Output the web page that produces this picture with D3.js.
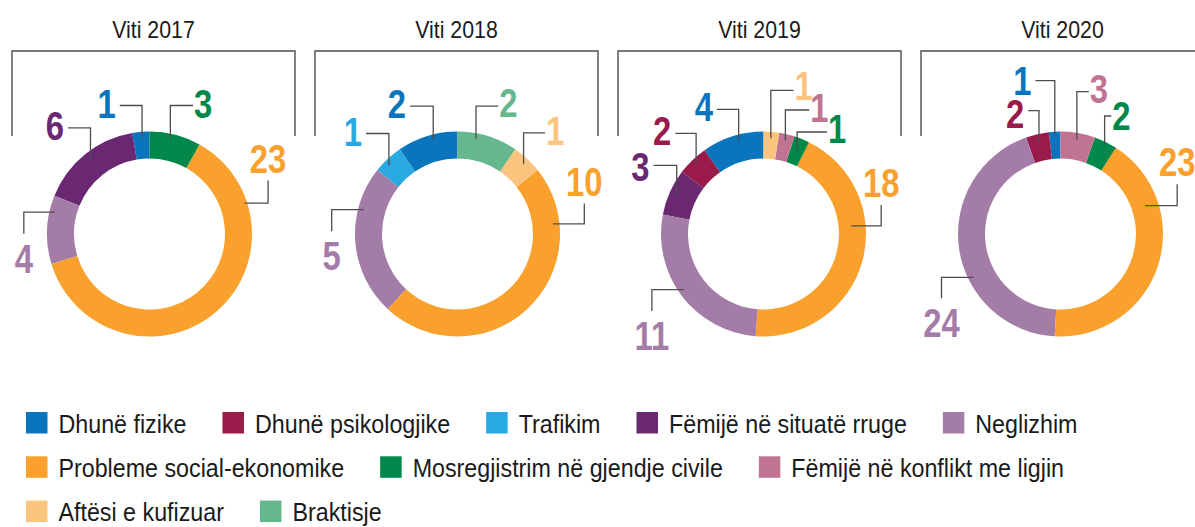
<!DOCTYPE html>
<html>
<head>
<meta charset="utf-8">
<script src="https://cdn.jsdelivr.net/npm/d3@7"></script>
<style>
  html, body { margin: 0; padding: 0; background: #ffffff; }
  svg { display: block; }
</style>
</head>
<body>
<div id="chart"></div>
<script>
// ---------------- DATA ----------------
const categories = [
  "Dhunë fizike",
  "Dhunë psikologjike",
  "Trafikim",
  "Fëmijë në situatë rruge",
  "Neglizhim",
  "Probleme social-ekonomike",
  "Mosregjistrim në gjendje civile",
  "Fëmijë në konflikt me ligjin",
  "Aftësi e kufizuar",
  "Braktisje"
];
const colors = [
  "#0a75bc", "#9a1a4a", "#29a9e1", "#6a2873", "#a47ca8",
  "#f9a02d", "#00884a", "#c17492", "#fcc57f", "#65b78e"
];
const years = ["Viti 2017", "Viti 2018", "Viti 2019", "Viti 2020"];
const values2017 = [1, 0, 0, 6, 4, 23, 3, 0, 0, 0];
const values2018 = [2, 0, 1, 0, 5, 10, 0, 0, 1, 2];
const values2019 = [4, 2, 0, 3, 11, 18, 1, 1, 1, 0];
const values2020 = [1, 2, 0, 0, 24, 23, 2, 3, 0, 0];
const seriesValues = [values2017, values2018, values2019, values2020];

// ---------------- LAYOUT (label leader placement, relative to donut centre) ----------------
// t: "v" = vertical then horizontal (label at side); "h" = horizontal then vertical (label above/below)
// a: anchor angle in degrees (null = slice middle), r: anchor radius, k: knee coordinate, e: end coordinate
// dy: optional baseline offset of a side label below its leader line
const labels2017 = [
  {c: 0, t: "v", a: -4.4, r: 97, k: -128.5, e: -29.7},
  {c: 3, t: "v", a: -38.4, r: 95, k: -106.2, e: -81.4},
  {c: 4, t: "h", a: -77, r: 97, k: -125.7, e: -0.2},
  {c: 5, t: "h", a: 72, r: 100, k: 118.6, e: -53.5},
  {c: 6, t: "v", a: 12.4, r: 97, k: -128.5, e: 43.6}
];
const labels2018 = [
  {c: 0, t: "v", a: -14.5, r: 97, k: -127.8, e: -47.5},
  {c: 2, t: "v", a: -45, r: 97, k: -100.5, e: -91.5},
  {c: 4, t: "h", a: -75.4, r: 97, k: -125.8, e: -2.8},
  {c: 5, t: "h", a: 84, r: 96, k: 126.8, e: -30.5},
  {c: 8, t: "v", a: 43.5, r: 96, k: -101.2, e: 87.5},
  {c: 9, t: "v", a: 11, r: 97, k: -127.8, e: 40.8, dy: 11}
];
const labels2019 = [
  {c: 0, t: "v", a: -15, r: 96, k: -124.7, e: -46.6},
  {c: 1, t: "v", a: -44, r: 97, k: -100.7, e: -88.3},
  {c: 3, t: "v", a: -66, r: 95, k: -68.7, e: -110, dy: 15.5},
  {c: 4, t: "h", a: -125, r: 97, k: -111.6, e: 77},
  {c: 5, t: "h", a: 84.7, r: 88, k: 117.7, e: -29},
  {c: 6, t: "v", a: null, r: 90, k: -102, e: 63.4, dy: 11},
  {c: 7, t: "v", a: null, r: 96, k: -124, e: 45.7},
  {c: 8, t: "v", a: null, r: 96, k: -143.7, e: 30, dy: 9.5}
];
const labels2020 = [
  {c: 0, t: "v", a: null, r: 100, k: -153.3, e: -25, dy: 14},
  {c: 1, t: "v", a: null, r: 95, k: -123.3, e: -32.3, dy: 17.5},
  {c: 4, t: "h", a: -116.5, r: 97, k: -119, e: 64.3},
  {c: 5, t: "h", a: 71.4, r: 89, k: 116.7, e: -49.7},
  {c: 6, t: "v", a: null, r: 100, k: -118, e: 50.7, dy: 14},
  {c: 7, t: "v", a: null, r: 96, k: -142.3, e: 28.3, dy: 11}
];
const labelLayouts = [labels2017, labels2018, labels2019, labels2020];
const donutShift = [-4, 1, 4, -2];

// ---------------- DRAW ----------------
const W = 1195, H = 527;
const FONT = "'Liberation Sans', Arial, Helvetica, sans-serif";
const svg = d3.select("#chart").append("svg")
  .attr("width", W).attr("height", H)
  .attr("viewBox", `0 0 ${W} ${H}`);

function addText(parent, x, y, str, o) {
  const t = parent.append("text")
    .attr("transform", `translate(${x},${y}) scale(${o.sx},1)`)
    .attr("x", 0).attr("y", 0)
    .attr("font-family", FONT)
    .attr("font-size", o.size)
    .attr("font-weight", o.weight || "normal")
    .attr("fill", o.fill || "#1a1a1a")
    .attr("text-anchor", o.anchor || "start")
    .text(str);
  return t;
}

const panelX0 = 12, panelStep = 303, panelW = 283;
const bracketTop = 51, bracketBottom = 136;
const cy = 234;
const rOuter = 102.5, rInner = 75.5;

const arc = d3.arc().innerRadius(rInner).outerRadius(rOuter);
const pie = d3.pie().sort(null).value(d => d.v)
  .startAngle(0).endAngle(-2 * Math.PI);

function polar(aDeg, r) {
  const a = aDeg * Math.PI / 180;
  return [r * Math.sin(a), -r * Math.cos(a)];
}

years.forEach((yr, i) => {
  const x0 = panelX0 + i * panelStep;
  const xc = x0 + panelW / 2;
  const g = svg.append("g");

  // bracket
  g.append("path")
    .attr("d", d3.line()([[x0, bracketBottom], [x0, bracketTop], [x0 + panelW, bracketTop], [x0 + panelW, bracketBottom]]))
    .attr("fill", "none").attr("stroke", "#4d4d4d").attr("stroke-width", 1.4);

  // title
  addText(g, xc, 38, yr, {size: 24.5, sx: 0.87, anchor: "middle", fill: "#1a1a1a"});

  // donut
  const cx = xc + donutShift[i];
  const dg = g.append("g").attr("transform", `translate(${cx},${cy})`);
  const data = seriesValues[i].map((v, c) => ({v, c}));
  const arcs = pie(data);
  dg.selectAll("path.slice")
    .data(arcs.filter(d => d.data.v > 0))
    .join("path")
    .attr("class", "slice")
    .attr("d", arc)
    .attr("fill", d => colors[d.data.c]);

  // leader lines + labels
  labelLayouts[i].forEach(spec => {
    const s = arcs[spec.c];
    const aDeg = spec.a !== null ? spec.a : ((s.startAngle + s.endAngle) / 2) * 180 / Math.PI;
    const [sx, sy] = polar(aDeg, spec.r);
    let knee, end;
    if (spec.t === "v") { knee = [sx, spec.k]; end = [spec.e, spec.k]; }
    else { knee = [spec.k, sy]; end = [spec.k, spec.e]; }
    dg.append("path")
      .attr("d", d3.line()([[sx, sy], knee, end]))
      .attr("fill", "none").attr("stroke", "#4d4d4d").attr("stroke-width", 1.3);

    const val = String(seriesValues[i][spec.c]);
    const lo = {size: 41, weight: "bold", sx: 0.8, fill: colors[spec.c]};
    const dy = spec.dy !== undefined ? spec.dy : 12;
    if (spec.t === "v") {
      if (end[0] < sx) addText(dg, end[0] - 4, end[1] + dy, val, Object.assign({anchor: "end"}, lo));
      else addText(dg, end[0] + 1, end[1] + dy, val, Object.assign({anchor: "start"}, lo));
    } else {
      if (end[1] < sy) addText(dg, end[0], end[1] - 8, val, Object.assign({anchor: "middle"}, lo));
      else addText(dg, end[0], end[1] + 39, val, Object.assign({anchor: "middle"}, lo));
    }
  });
});

// legend
const lg = svg.append("g");
const legX0 = 26, legMaxX = 1180, sw = 21.5, legRow0 = 432.5, legPitch = 44.3, legGap = 36, textOff = 32.5;
let lx = legX0, row = 0;
categories.forEach((name, c) => {
  const tmp = addText(lg, 0, -100, name, {size: 26, sx: 0.895});
  const w = tmp.node().getComputedTextLength() * 0.895;
  tmp.remove();
  if (lx + textOff + w > legMaxX) { row += 1; lx = legX0; }
  const base = legRow0 + row * legPitch;
  lg.append("rect").attr("x", lx).attr("y", base - sw + 1).attr("width", sw).attr("height", sw)
    .attr("fill", colors[c]);
  addText(lg, lx + textOff, base, name, {size: 26, sx: 0.895, fill: "#1a1a1a"});
  lx = lx + textOff + w + legGap;
});
</script>
</body>
</html>
